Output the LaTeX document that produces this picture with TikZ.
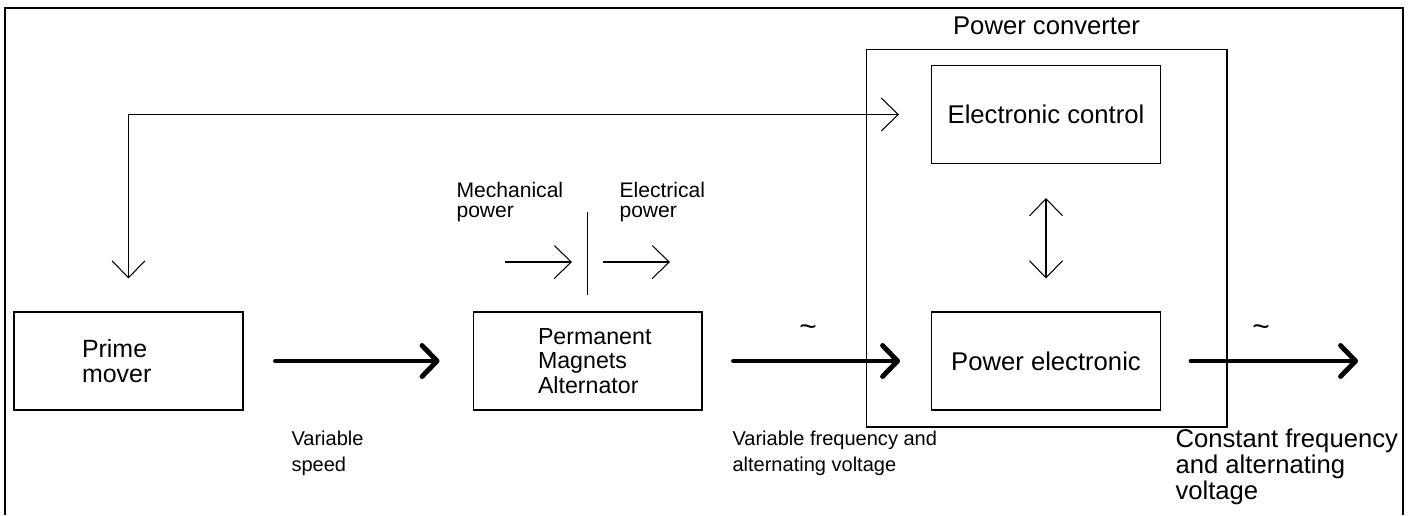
\documentclass[tikz,border=0pt]{standalone}
\usepackage{fontspec}
\setmainfont{Liberation Sans}
\usetikzlibrary{arrows.meta, positioning}

\begin{document}
\begin{tikzpicture}[x=0.02cm, y=-0.02cm, line width=0.6pt,
  box/.style={draw, minimum width=4.58cm, minimum height=1.96cm, inner sep=0pt},
  lbl/.style={align=left, inner sep=0pt, font=\fontsize{14.6}{14.7}\selectfont},
  caption/.style={align=left, inner sep=0pt, font=\fontsize{11.4}{14.7}\selectfont},
  small/.style={align=left, inner sep=0pt, font=\fontsize{12}{11.9}\selectfont},
  thin arr/.style={-{Straight Barb[length=0.34cm, width=0.66cm]}, line width=0.6pt},
  both arr/.style={{Straight Barb[length=0.34cm, width=0.66cm]}-{Straight Barb[length=0.34cm, width=0.66cm]}, line width=0.6pt},
  thick arr/.style={-{Straight Barb[length=0.3cm, width=0.62cm, line cap=round, line join=round]}, line width=2.8pt, line cap=round}
]
\useasboundingbox (0,0) rectangle (1412,515);
\draw (5,515) -- (5,8) -- (1403,8) -- (1403,515);

% blocks
\node[box] (prime) at (128.5,361) {};
\node[box] (pma) at (587.5,361) {};
\node[box, minimum width=7.22cm, minimum height=7.56cm] (conv) at (1046.5,238) {};
\node[box] (ctrl) at (1046,114.5) {};
\node[box] (pe) at (1046,361) {};

% texts in the blocks
\node[lbl, font=\fontsize{14.2}{14.2}\selectfont, right=1.36cm of prime.west] (primetxt) {Prime\\mover};
\node[lbl, font=\fontsize{13.2}{13.9}\selectfont, right=1.3cm of pma.west] (pmatxt) {Permanent\\Magnets\\Alternator};
\node[lbl] (ctrltxt) at (ctrl) {Electronic control};
\node[lbl] (petxt) at (pe) {Power electronic};
\node[lbl, above=0.26cm of conv.north] (convtxt) {Power converter};

% main power chain
\coordinate (out) at (1358,361);
\draw[thick arr, shorten <=0.64cm, shorten >=0.66cm] (prime.east) -- (pma.west);
\draw[thick arr, shorten <=0.62cm, shorten >=0.62cm] (pma.east) -- (pe.west);
\draw[thick arr, shorten <=0.6cm] (pe.east) -- (out);
\node[lbl, font=\fontsize{17}{17}\selectfont] (tilde1) at (808,331) {\textasciitilde};
\node[lbl, font=\fontsize{17}{17}\selectfont] (tilde2) at (1261,331) {\textasciitilde};

% control loop
\draw[both arr, shorten <=0.64cm, shorten >=0.66cm] (ctrl.west) -| (prime.north);
\draw[both arr, shorten <=0.68cm, shorten >=0.66cm] (ctrl.south) -- (pe.north);

% power flow through the alternator
\draw ([yshift=0.32cm]pma.north) -- ([yshift=2cm]pma.north);
\coordinate (mech1) at (505,262);
\coordinate (mech2) at (572,262);
\coordinate (elec1) at (603,262);
\coordinate (elec2) at (670,262);
\draw[thin arr] (mech1) -- (mech2);
\draw[thin arr] (elec1) -- (elec2);
\node[small, anchor=west] (mechtxt) at (456,202) {Mechanical\\power};
\node[small, anchor=west] (electxt) at (619,202) {Electrical\\power};

% captions
\node[caption, anchor=west] (speedtxt) at (291,453) {Variable\\speed};
\node[caption, anchor=west] (vartxt) at (732,453) {Variable frequency and\\alternating voltage};
\node[lbl, anchor=west] (consttxt) at (1175,467) {Constant frequency\\and alternating\\voltage};
\end{tikzpicture}
\end{document}
